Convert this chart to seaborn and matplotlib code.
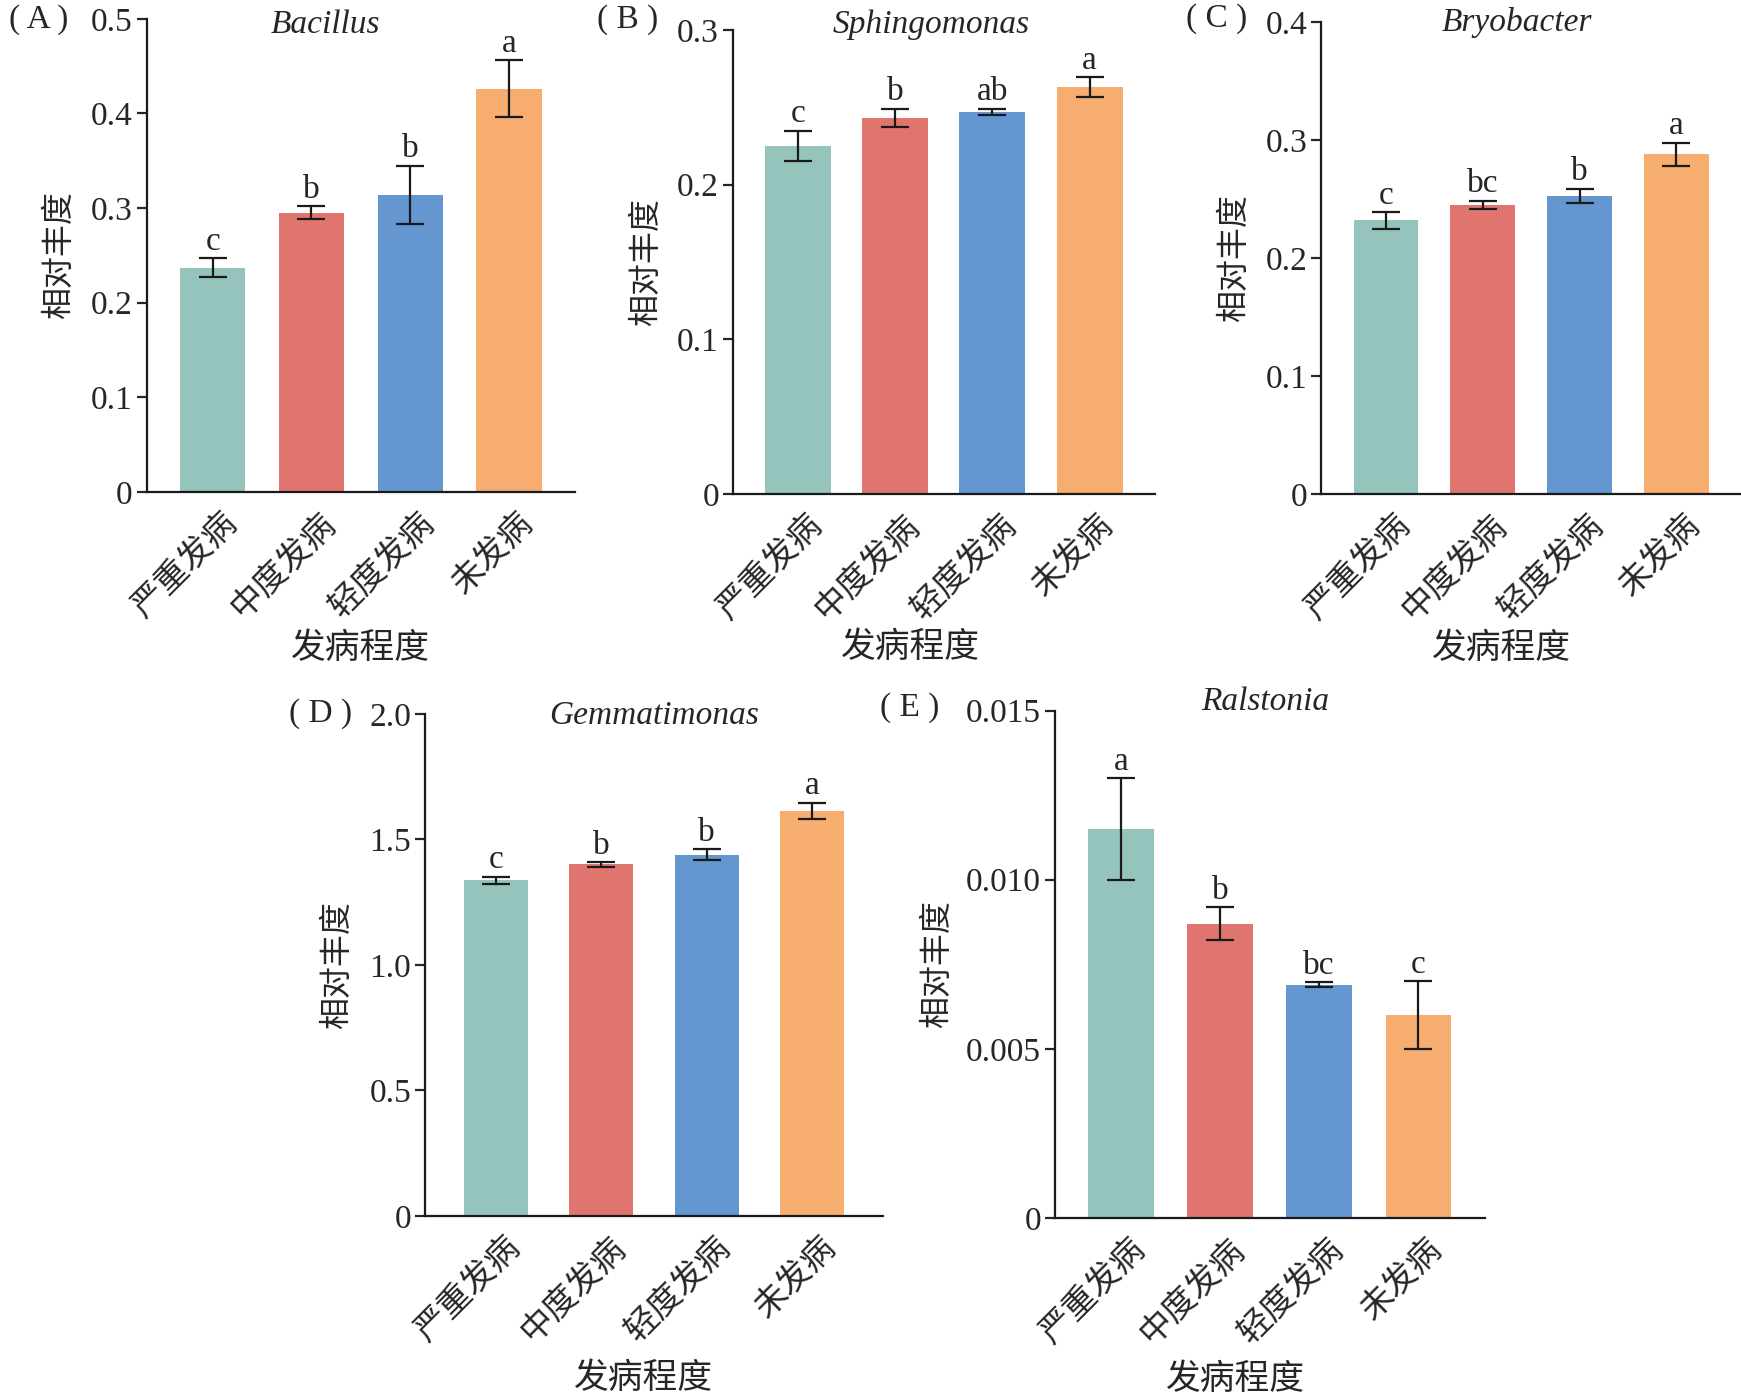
import numpy as np
import pandas as pd
import matplotlib
matplotlib.use("Agg")
import matplotlib.pyplot as plt
import matplotlib.transforms as mtransforms
import seaborn as sns

# disease severity groups and bar colours
categories = ["严重发病", "中度发病", "轻度发病", "未发病"]
colors = ["#94C4BB", "#E07570", "#6497CF", "#F6AD6F"]

# relative abundance (mean, error)
bacillus_mean = [0.237, 0.295, 0.314, 0.426]
bacillus_err = [0.010, 0.007, 0.031, 0.030]
bacillus_sig = ["c", "b", "b", "a"]

sphingomonas_mean = [0.225, 0.243, 0.247, 0.263]
sphingomonas_err = [0.010, 0.006, 0.002, 0.0065]
sphingomonas_sig = ["c", "b", "ab", "a"]

bryobacter_mean = [0.232, 0.245, 0.253, 0.288]
bryobacter_err = [0.007, 0.0037, 0.006, 0.010]
bryobacter_sig = ["c", "bc", "b", "a"]

gemmatimonas_mean = [1.338, 1.400, 1.439, 1.614]
gemmatimonas_err = [0.014, 0.010, 0.021, 0.033]
gemmatimonas_sig = ["c", "b", "b", "a"]

ralstonia_mean = [0.0115, 0.0087, 0.0069, 0.0060]
ralstonia_err = [0.0015, 0.00048, 0.00008, 0.0010]
ralstonia_sig = ["a", "b", "bc", "c"]

yticks_a = [0, 0.1, 0.2, 0.3, 0.4, 0.5]
ylabels_a = ["0", "0.1", "0.2", "0.3", "0.4", "0.5"]
yticks_b = [0, 0.1, 0.2, 0.3]
ylabels_b = ["0", "0.1", "0.2", "0.3"]
yticks_c = [0, 0.1, 0.2, 0.3, 0.4]
ylabels_c = ["0", "0.1", "0.2", "0.3", "0.4"]
yticks_d = [0, 0.5, 1.0, 1.5, 2.0]
ylabels_d = ["0", "0.5", "1.0", "1.5", "2.0"]
yticks_e = [0, 0.005, 0.010, 0.015]
ylabels_e = ["0", "0.005", "0.010", "0.015"]

sns.set_style("ticks")
plt.rcParams["font.family"] = ["Liberation Serif", "Noto Sans CJK SC"]
plt.rcParams["axes.unicode_minus"] = False

W0, H0 = 1568, 1260


def rect(l, r, t, b):
    return [l / W0, 1 - b / H0, (r - l) / W0, (b - t) / H0]


panels = [
    dict(tag="( A )", genus="Bacillus", mean=bacillus_mean, err=bacillus_err, sig=bacillus_sig,
         yt=yticks_a, yl=ylabels_a, box=rect(132, 518, 17, 443), width=0.66,
         title=(0.417, 0.988), ylab=-0.166, xlab=(0.5, -0.298), tagpos=(8, 18)),
    dict(tag="( B )", genus="Sphingomonas", mean=sphingomonas_mean, err=sphingomonas_err, sig=sphingomonas_sig,
         yt=yticks_b, yl=ylabels_b, box=rect(660, 1040, 27, 445), width=0.68,
         title=(0.47, 1.012), ylab=-0.168, xlab=(0.42, -0.298), tagpos=(538, 18)),
    dict(tag="( C )", genus="Bryobacter", mean=bryobacter_mean, err=bryobacter_err, sig=bryobacter_sig,
         yt=yticks_c, yl=ylabels_c, box=rect(1190, 1568, 20, 445), width=0.67,
         title=(0.466, 1.0), ylab=-0.169, xlab=(0.43, -0.295), tagpos=(1068, 17)),
    dict(tag="( D )", genus="Gemmatimonas", mean=gemmatimonas_mean, err=gemmatimonas_err, sig=gemmatimonas_sig,
         yt=yticks_d, yl=ylabels_d, box=rect(383, 795, 643, 1095), width=0.61,
         title=(0.50, 0.996), ylab=-0.158, xlab=(0.478, -0.293), tagpos=(260, 643)),
    dict(tag="( E )", genus="Ralstonia", mean=ralstonia_mean, err=ralstonia_err, sig=ralstonia_sig,
         yt=yticks_e, yl=ylabels_e, box=rect(950, 1337, 640, 1097), width=0.66,
         title=(0.49, 1.017), ylab=-0.238, xlab=(0.42, -0.287), tagpos=(793, 637)),
]

fig = plt.figure(figsize=(17.41, 13.99), dpi=100)
shift = mtransforms.ScaledTranslation(6 / 72, -2 / 72, fig.dpi_scale_trans)

for p in panels:
    ax = fig.add_axes(p["box"])
    df = pd.DataFrame({"group": categories, "abundance": p["mean"]})
    sns.barplot(data=df, x="group", y="abundance", hue="group", order=categories,
                palette=colors, saturation=1, width=p["width"], legend=False,
                edgecolor="none", ax=ax)
    ax.errorbar(x=np.arange(len(categories)), y=p["mean"], yerr=p["err"], fmt="none",
                ecolor="#1a1a1a", elinewidth=1.6, capsize=10, capthick=1.6)
    for i, (m, e, s) in enumerate(zip(p["mean"], p["err"], p["sig"])):
        ax.annotate(s, xy=(i, m + e), xytext=(0, 1), textcoords="offset points",
                    ha="center", va="bottom", fontsize=24)

    ax.set_xlim(-0.67, 3.67)
    ax.set_ylim(0, p["yt"][-1])
    ax.set_yticks(p["yt"])
    ax.set_yticklabels(p["yl"])
    ax.tick_params(axis="y", length=7, width=1.6, direction="out", labelsize=24, pad=3)
    ax.tick_params(axis="x", length=0, labelsize=24, pad=9)
    for lab in ax.get_xticklabels():
        lab.set_rotation(45)
        lab.set_ha("right")
        lab.set_rotation_mode("anchor")
        lab.set_transform(lab.get_transform() + shift)
    sns.despine(ax=ax)
    for side in ["left", "bottom"]:
        ax.spines[side].set_linewidth(1.6)
        ax.spines[side].set_color("#1a1a1a")

    ax.set_xlabel("发病程度", fontsize=25)
    ax.xaxis.set_label_coords(*p["xlab"])
    ax.set_ylabel("相对丰度", fontsize=23)
    ax.yaxis.set_label_coords(p["ylab"], 0.5)
    ax.text(p["title"][0], p["title"][1], p["genus"], transform=ax.transAxes,
            style="italic", fontsize=24, ha="center", va="center")
    fig.text(p["tagpos"][0] / W0, 1 - p["tagpos"][1] / H0, p["tag"],
             ha="left", va="center", fontsize=24)

fig.savefig("out.png", dpi=100)
